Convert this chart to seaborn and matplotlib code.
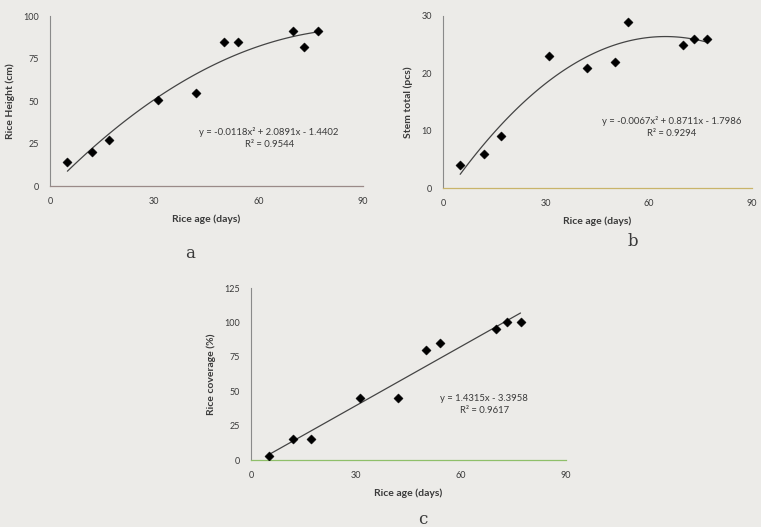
import matplotlib
matplotlib.use('Agg')

import numpy as np
import pandas as pd
import matplotlib.pyplot as plt
import seaborn as sns

# -------------------------------
# DATA
# -------------------------------

rice_age = [5, 12, 17, 31, 42, 50, 54, 70, 73, 77]

rice_height = [14, 20, 27, 50.5, 55, 84.5, 84.5, 91, 81.5, 91]
stem_total = [4, 6, 9, 23, 21, 22, 29, 25, 26, 26]
rice_coverage = [3, 15, 15, 45, 45, 80, 85, 95, 100, 100]

eq_a = "y = -0.0118x² + 2.0891x - 1.4402"
r2_a = "R² = 0.9544"
eq_b = "y = -0.0067x² + 0.8711x - 1.7986"
r2_b = "R² = 0.9294"
eq_c = "y = 1.4315x - 3.3958"
r2_c = "R² = 0.9617"

df = pd.DataFrame({
    'age': rice_age,
    'height': rice_height,
    'stem': stem_total,
    'coverage': rice_coverage,
})

# -------------------------------
# STYLE
# -------------------------------

sns.set_style("white")
plt.rcParams['font.family'] = ['Lato', 'DejaVu Sans']

page = '#ecebe8'
ink = '#3a3a3a'

fig = plt.figure(figsize=(7.61, 5.27), dpi=100)
fig.patch.set_facecolor(page)


def px_axes(left, right, top, bottom):
    W, H = 761, 527
    return fig.add_axes([left / W, 1 - bottom / H,
                         (right - left) / W, (bottom - top) / H])


def draw_panel(ax, col, order, ymax, ystep, ylabel, axis_color, eq, r2, eq_xy):
    ax.set_facecolor(page)
    sns.regplot(
        data=df, x='age', y=col, order=order, ci=None, scatter=False,
        line_kws={'color': '#444444', 'lw': 0.9}, ax=ax
    )
    sns.scatterplot(
        data=df, x='age', y=col, marker='D', color='black',
        s=22, edgecolor='black', linewidth=0.3, ax=ax, zorder=3
    )
    ax.set_xlim(0, 90)
    ax.set_ylim(0, ymax)
    ax.set_xticks([0, 30, 60, 90])
    ax.set_yticks(np.arange(0, ymax + 1, ystep))
    ax.set_xlabel("Rice age (days)", fontsize=7.5, fontweight='bold',
                  color=ink, labelpad=6)
    ax.set_ylabel(ylabel, fontsize=7.5, fontweight='bold', color=ink, labelpad=6)
    ax.tick_params(axis='both', labelsize=6.5, colors=ink, length=3,
                   width=0.6, direction='out', pad=5)
    ax.tick_params(axis='x', color=axis_color)
    sns.despine(ax=ax)
    ax.spines['left'].set_color('#8a8a8a')
    ax.spines['left'].set_linewidth(0.8)
    ax.spines['bottom'].set_color(axis_color)
    ax.spines['bottom'].set_linewidth(0.9)
    ax.text(eq_xy[0], eq_xy[1], eq, transform=ax.transAxes, fontsize=6.8,
            color=ink, ha='center', va='center')
    ax.text(eq_xy[0], eq_xy[1] - 0.075, r2, transform=ax.transAxes,
            fontsize=6.8, color=ink, ha='center', va='center')


# -------------------------------
# PANEL A - RICE HEIGHT
# -------------------------------

ax_a = px_axes(50, 363, 16, 186)
draw_panel(ax_a, 'height', 2, 100, 25, "Rice Height (cm)", '#9a8a88',
           eq_a, r2_a, (0.70, 0.32))

# -------------------------------
# PANEL B - STEM TOTAL
# -------------------------------

ax_b = px_axes(443, 752, 16, 188)
draw_panel(ax_b, 'stem', 2, 30, 10, "Stem total (pcs)", '#c9b46a',
           eq_b, r2_b, (0.74, 0.39))

# -------------------------------
# PANEL C - RICE COVERAGE
# -------------------------------

ax_c = px_axes(251, 566, 288, 460)
draw_panel(ax_c, 'coverage', 1, 125, 25, "Rice coverage (%)", '#8fbf6a',
           eq_c, r2_c, (0.74, 0.36))

# -------------------------------
# PANEL LETTERS
# -------------------------------

fig.text(190 / 761, 1 - 253 / 527, "a", fontsize=12, color=ink,
         family='DejaVu Serif', ha='center', va='center')
fig.text(633 / 761, 1 - 241 / 527, "b", fontsize=12, color=ink,
         family='DejaVu Serif', ha='center', va='center')
fig.text(423 / 761, 1 - 519 / 527, "c", fontsize=12, color=ink,
         family='DejaVu Serif', ha='center', va='center')

plt.savefig("out.png", dpi=100, facecolor=page)
